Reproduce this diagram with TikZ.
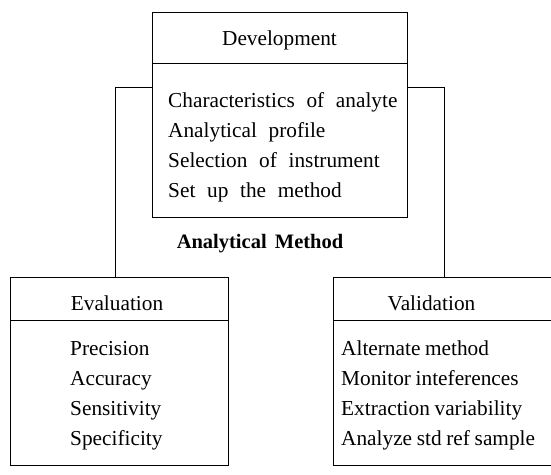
\documentclass[tikz,border=0pt]{standalone}
\usepackage{fontspec}
\setmainfont{Liberation Serif}
\newcommand{\mysize}{\fontsize{21.3}{30}\selectfont}
\newcommand{\widesp}{\spaceskip=0.55em plus 0.1em minus 0.05em\relax}
\newcommand{\narrowsp}{\spaceskip=0.22em plus 0.05em minus 0.05em\relax}
\newcommand{\boldsp}{\spaceskip=0.4em plus 0.05em minus 0.05em\relax}
\begin{document}
\begin{tikzpicture}[x=1pt,y=-1pt,
  box/.style={draw, line width=1pt, inner sep=0pt, anchor=north west},
  txt/.style={inner sep=0pt, font=\mysize},
  lst/.style={txt, anchor=base west},
  devlst/.style={lst, font=\mysize\widesp},
  vallst/.style={lst, font=\mysize\narrowsp},
  ttl/.style={txt, anchor=base},
  conn/.style={draw, line width=1pt}]
\useasboundingbox (0,0) rectangle (551,474);
% Development
\node[box, minimum width=255pt, minimum height=51pt] (devhead) at (152,12) {};
\node[box, minimum width=255pt, minimum height=154pt] (devbody) at (152,63) {};
\node[ttl] (devt) at (279.5,45) {Development};
\node[devlst] (devl1) at (168,107) {Characteristics of analyte};
\node[devlst] (devl2) at (168,137) {Analytical profile};
\node[devlst] (devl3) at (168,167) {Selection of instrument};
\node[devlst] (devl4) at (168,197) {Set up the method};
% Evaluation
\node[box, minimum width=218pt, minimum height=43pt] (evalhead) at (10,277) {};
\node[box, minimum width=218pt, minimum height=145pt] (evalbody) at (10,320) {};
\node[ttl] (evalt) at (117,310) {Evaluation};
\node[lst] (evall1) at (70,355) {Precision};
\node[lst] (evall2) at (70,385) {Accuracy};
\node[lst] (evall3) at (70,415) {Sensitivity};
\node[lst] (evall4) at (70,445) {Specificity};
% Validation
\node[box, minimum width=230pt, minimum height=43pt] (valhead) at (333,277) {};
\node[box, minimum width=230pt, minimum height=145pt] (valbody) at (333,320) {};
\node[ttl] (valt) at (431.5,310) {Validation};
\node[vallst] (vall1) at (341,355) {Alternate method};
\node[vallst] (vall2) at (341,385) {Monitor inteferences};
\node[vallst] (vall3) at (341,415) {Extraction variability};
\node[vallst] (vall4) at (341,445) {Analyze std ref sample};
% label
\node[ttl, font=\fontsize{20.5}{30}\selectfont\bfseries\boldsp] (am) at (260,248) {Analytical Method};
% connectors
\coordinate (lc) at (115,87);
\coordinate (rc) at (444,87);
\draw[conn] (evalhead.north -| lc) -- (lc) -- (lc -| devbody.west);
\draw[conn] (devbody.east |- rc) -- (rc) -- (rc |- valhead.north);
\end{tikzpicture}
\end{document}
